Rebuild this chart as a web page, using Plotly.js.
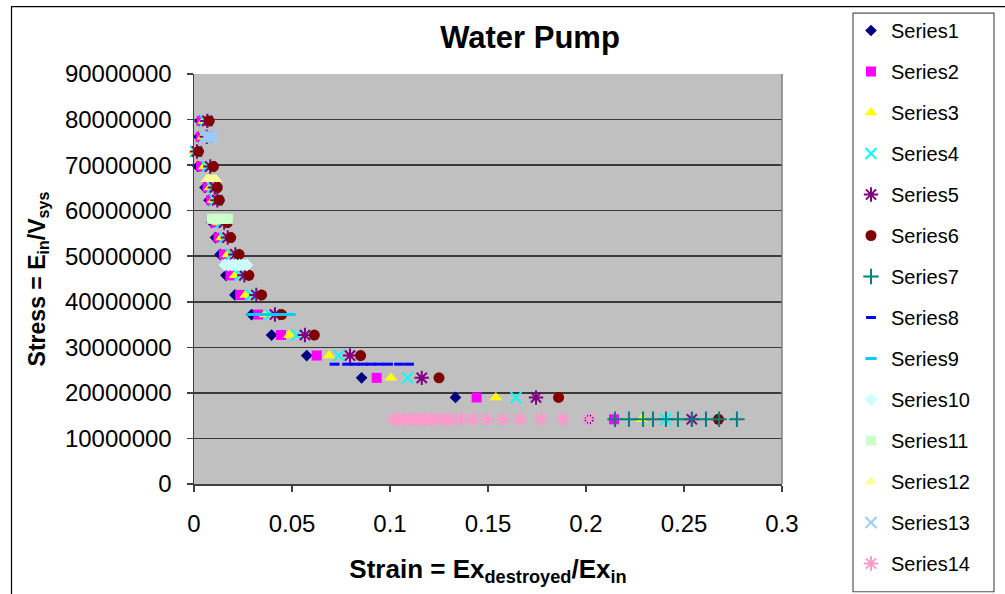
<!DOCTYPE html>
<html>
<head>
<meta charset="utf-8">
<script src="https://cdn.plot.ly/plotly-3.0.1.min.js"></script>
<style>
  html, body { margin: 0; padding: 0; background: #ffffff; }
  #chart { width: 1005px; height: 594px; }
</style>
</head>
<body>
<div id="chart"></div>
<script>
// Stress levels shared by Series1..Series6 (one point per level)
const stressRows = [79700000, 76200000, 73000000, 69700000, 65100000, 62300000, 57400000,
                    54100000, 50400000, 45800000, 41500000, 37200000, 32700000, 28200000,
                    23300000, 19000000, 14200000];

const series1X = [0.0030, 0.0025, -0.0012, 0.0020, 0.0056, 0.0077, 0.0092, 0.0110, 0.0133, 0.0163, 0.0209, 0.0294, 0.0396, 0.0575, 0.0855, 0.1334, 0.2016];
const series2X = [0.0039, 0.0035, -0.0005, 0.0036, 0.0069, 0.0087, 0.0108, 0.0125, 0.0152, 0.0186, 0.0236, 0.0328, 0.0444, 0.0626, 0.0932, 0.1442, 0.2143];
const series3X = [0.0049, 0.0045, 0.0002, 0.0052, 0.0081, 0.0098, 0.0123, 0.0141, 0.0172, 0.0210, 0.0263, 0.0362, 0.0486, 0.0689, 0.1005, 0.1540, 0.2284];
const series4X = [0.0058, 0.0055, 0.0008, 0.0067, 0.0094, 0.0108, 0.0139, 0.0156, 0.0191, 0.0233, 0.0291, 0.0388, 0.0524, 0.0740, 0.1090, 0.1643, 0.2406];
const series5X = [0.0068, 0.0065, 0.0015, 0.0083, 0.0106, 0.0119, 0.0154, 0.0172, 0.0211, 0.0257, 0.0318, 0.0413, 0.0566, 0.0796, 0.1162, 0.1745, 0.2540];
const series6X = [0.0077, 0.0075, 0.0022, 0.0099, 0.0119, 0.0129, 0.0170, 0.0187, 0.0230, 0.0280, 0.0345, 0.0447, 0.0614, 0.0850, 0.1250, 0.1860, 0.2676];

// Series7..Series14: sweeps along a single stress level each
const series7Stress = 14200000;
const series7X = [0.2148, 0.2219, 0.2291, 0.2342, 0.2408, 0.2469, 0.2540, 0.2612, 0.2679, 0.2770];
const series8Stress = 26300000;
const series8X = [0.0717, 0.0781, 0.0822, 0.0862, 0.0903, 0.0944, 0.0990, 0.1046, 0.1097];
const series9Stress = 37200000;
const series9X = [0.0296, 0.0320, 0.0345, 0.0371, 0.0397, 0.0421, 0.0446, 0.0472, 0.0490];
const series10Stress = 48100000;
const series10X = [0.0158, 0.0175, 0.0194, 0.0212, 0.0232, 0.0251, 0.0270];
const series11Stress = 58200000;
const series11X = [0.0092, 0.0108, 0.0125, 0.0141, 0.0157, 0.0173];
const series12Stress = 66900000;
const series12X = [0.0066, 0.0078, 0.0089, 0.0101, 0.0112];
const series13Stress = 76200000;
const series13X = [0.0056, 0.0066, 0.0076, 0.0087, 0.0097];
const series14Stress = 14200000;
const series14X = [0.1020, 0.1046, 0.1071, 0.1097, 0.1122, 0.1148, 0.1179, 0.1209, 0.1240, 0.1276,
                   0.1311, 0.1362, 0.1423, 0.1495, 0.1577, 0.1663, 0.1770, 0.1883, 0.2015];

const seriesNames = ['Series1', 'Series2', 'Series3', 'Series4', 'Series5', 'Series6', 'Series7',
                     'Series8', 'Series9', 'Series10', 'Series11', 'Series12', 'Series13', 'Series14'];

const FONT = 'Arial, "Liberation Sans", sans-serif';

function rowSeries(xs) { return { x: xs, y: stressRows }; }
function sweep(xs, level) { return { x: xs, y: xs.map(() => level) }; }

const pointSets = [
  rowSeries(series1X), rowSeries(series2X), rowSeries(series3X),
  rowSeries(series4X), rowSeries(series5X), rowSeries(series6X),
  sweep(series7X, series7Stress), sweep(series8X, series8Stress),
  sweep(series9X, series9Stress), sweep(series10X, series10Stress),
  sweep(series11X, series11Stress), sweep(series12X, series12Stress),
  sweep(series13X, series13Stress), sweep(series14X, series14Stress)
];

// marker style per series
const markerStyles = [
  { symbol: 'diamond', color: '#000080', size: 9 },
  { symbol: 'square', color: '#FF00FF', size: 10 },
  { symbol: 'triangle-up', color: '#FFFF00', size: 11 },
  { symbol: 'x-thin-open', color: '#00FFFF', size: 11, line: { color: '#00FFFF', width: 2 } },
  { symbol: 'asterisk-open', color: '#800080', size: 12, line: { color: '#800080', width: 2 } },
  { symbol: 'circle', color: '#800000', size: 11 },
  { symbol: 'cross-thin-open', color: '#008080', size: 11, line: { color: '#008080', width: 2 } },
  { symbol: 'line-ew-open', color: '#0000FF', size: 7, line: { color: '#0000FF', width: 3 } },
  { symbol: 'line-ew-open', color: '#00CCFF', size: 8, line: { color: '#00CCFF', width: 3 } },
  { symbol: 'diamond', color: '#CCFFFF', size: 10 },
  { symbol: 'square', color: '#CCFFCC', size: 10 },
  { symbol: 'triangle-up', color: '#FFFF99', size: 11 },
  { symbol: 'x-thin-open', color: '#99CCFF', size: 11, line: { color: '#99CCFF', width: 2 } },
  { symbol: 'asterisk-open', color: '#FF99CC', size: 12, line: { color: '#FF99CC', width: 2 } }
];

const traces = pointSets.map((p, i) => ({
  type: 'scatter',
  mode: 'markers',
  name: seriesNames[i],
  legendgroup: 'g' + i,
  x: p.x,
  y: p.y,
  cliponaxis: false,
  hoverinfo: 'skip',
  marker: Object.assign({ line: { width: 0 } }, markerStyles[i])
}));

// plot area in pixels: left 194, right 782, top 73, bottom 484
const W = 1005, H = 594, L = 194, R = 782, T = 73, B = 484;
const px2paperX = px => (px - L) / (R - L);
const px2paperY = py => (B - py) / (B - T);

const layout = {
  width: W,
  height: H,
  margin: { l: L, r: W - R, t: T, b: H - B, pad: 0 },
  paper_bgcolor: '#ffffff',
  plot_bgcolor: '#C0C0C0',
  font: { family: FONT, color: '#000000', size: 20 },
  showlegend: true,
  title: {
    text: 'Water Pump',
    font: { family: FONT, size: 31, weight: 'bold', color: '#000000' },
    xref: 'paper', x: px2paperX(530), xanchor: 'center',
    yref: 'container', y: 1 - 37 / H, yanchor: 'middle'
  },
  xaxis: {
    range: [0, 0.3],
    dtick: 0.05,
    tick0: 0,
    showgrid: false,
    zeroline: false,
    showline: true,
    linecolor: '#404040',
    linewidth: 1.5,
    ticks: 'outside',
    ticklen: 6,
    tickwidth: 1.5,
    tickcolor: '#404040',
    ticklabelstandoff: 12,
    tickfont: { family: FONT, size: 24, color: '#000000' },
    title: {
      text: 'Strain = Ex<sub>destroyed</sub>/Ex<sub>in</sub>',
      font: { family: FONT, size: 26, weight: 'bold', color: '#000000' },
      standoff: 23
    }
  },
  yaxis: {
    range: [0, 90000000],
    dtick: 10000000,
    tick0: 0,
    tickformat: 'd',
    showgrid: true,
    gridcolor: '#3a3a3a',
    gridwidth: 1.5,
    zeroline: false,
    showline: true,
    linecolor: '#404040',
    linewidth: 1.5,
    ticks: 'outside',
    ticklen: 6,
    tickwidth: 1.5,
    tickcolor: '#404040',
    ticklabelstandoff: 10,
    tickfont: { family: FONT, size: 24, color: '#000000' },
    title: {
      text: 'Stress = E<sub>in</sub>/V<sub>sys</sub>',
      font: { family: FONT, size: 23, weight: 'bold', color: '#000000' },
      standoff: 13
    }
  },
  legend: {
    x: px2paperX(851), xanchor: 'left',
    y: px2paperY(11), yanchor: 'top',
    bgcolor: 'rgba(0,0,0,0)',
    borderwidth: 0,
    traceorder: 'grouped',
    tracegroupgap: 12,
    maxheight: 590,
    font: { family: FONT, size: 20, color: '#000000' },
    itemsizing: 'trace'
  },
  shapes: [
    // plot area frame (right side)
    { type: 'line', xref: 'paper', yref: 'paper', x0: 1, x1: 1, y0: 0, y1: 1,
      line: { color: '#808080', width: 1.5 } },
    // legend frame
    { type: 'rect', xref: 'paper', yref: 'paper',
      x0: px2paperX(853), x1: px2paperX(994), y0: px2paperY(592), y1: px2paperY(12),
      line: { color: '#555555', width: 1.2 }, fillcolor: 'rgba(0,0,0,0)' },
    // chart area frame
    { type: 'rect', xref: 'paper', yref: 'paper',
      x0: px2paperX(11.5), x1: px2paperX(1012), y0: px2paperY(602), y1: px2paperY(5.5),
      line: { color: '#000000', width: 1.2 }, fillcolor: 'rgba(0,0,0,0)' }
  ]
};

Plotly.newPlot('chart', traces, layout, { staticPlot: true, displayModeBar: false });
</script>
</body>
</html>
